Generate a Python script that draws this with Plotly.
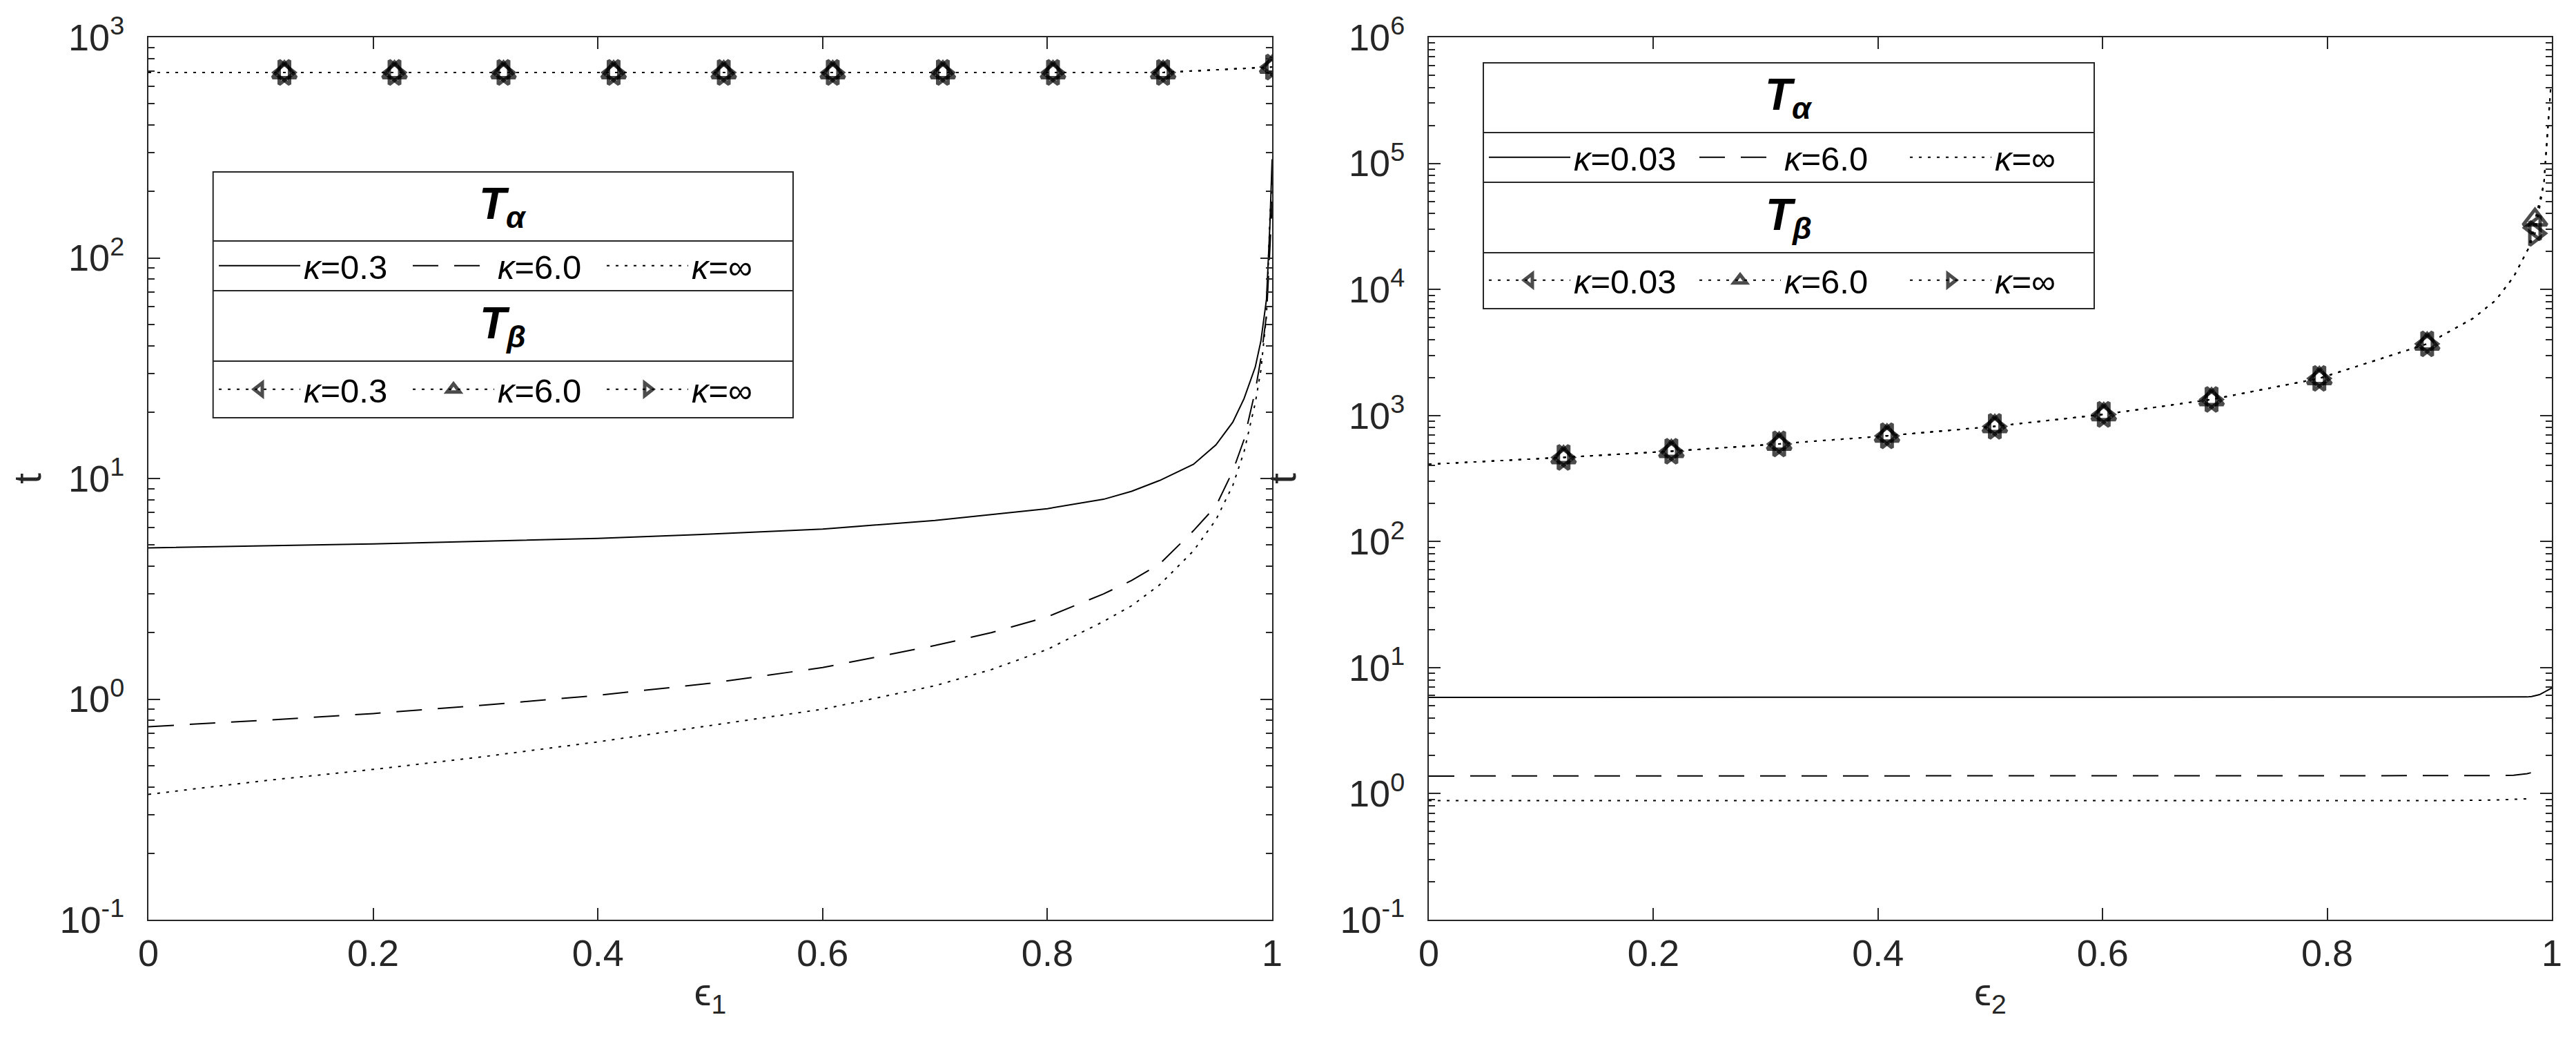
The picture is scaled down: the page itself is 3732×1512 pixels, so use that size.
import plotly.graph_objects as go

W, H = 3732, 1512
FONT = "Liberation Sans"
INK = "#262626"

# ---- left panel (epsilon_1) ----
eps1 = [0, 0.1, 0.2, 0.3, 0.4, 0.5, 0.6, 0.7, 0.75, 0.8, 0.85, 0.875, 0.9,
        0.93, 0.95, 0.965, 0.975, 0.985, 0.99, 0.995, 0.998, 1.0]
ta1_k03 = [4.85, 4.95, 5.05, 5.2, 5.35, 5.6, 5.9, 6.45, 6.85, 7.3, 8.05, 8.75,
           9.8, 11.6, 14.2, 18.0, 23.0, 32.0, 42.0, 65.0, 140.0, 280.0]
ta1_k6 = [0.75, 0.80, 0.86, 0.94, 1.04, 1.18, 1.39, 1.75, 2.0, 2.36, 3.0, 3.45,
          4.1, 5.8, 7.5, 10.8, 15.0, 25.0, 35.0, 55.0, 110.0, 180.0]
ta1_kinf = [0.37, 0.425, 0.48, 0.55, 0.64, 0.76, 0.90, 1.15, 1.36, 1.68, 2.25,
            2.65, 3.3, 4.7, 6.5, 9.3, 13.2, 22.0, 31.0, 55.0, 150.0, 230.0]

eps1_b = [0, 0.121, 0.219, 0.316, 0.414, 0.512, 0.609, 0.707, 0.805, 0.903, 1.0]
tb1_k03 = [693, 693, 693, 693, 693, 693, 693, 693, 693, 693, 733]
tb1_k6 = [693, 693, 693, 693, 693, 693, 693, 693, 693, 693, 733]
tb1_kinf = [693, 693, 693, 693, 693, 693, 693, 693, 693, 693, 733]
marks1 = [1, 2, 3, 4, 5, 6, 7, 8, 9, 10]

# ---- right panel (epsilon_2) ----
eps2 = [0, 0.1, 0.2, 0.3, 0.4, 0.5, 0.6, 0.7, 0.8, 0.9, 0.95, 0.966, 0.978,
        0.982, 0.989, 1.0]
ta2_k003 = [5.8, 5.8, 5.8, 5.8, 5.8, 5.8, 5.8, 5.8, 5.8, 5.8, 5.8, 5.82, 5.85,
            5.9, 6.1, 6.9]
ta2_k6 = [1.38, 1.38, 1.38, 1.38, 1.38, 1.38, 1.38, 1.38, 1.38, 1.38, 1.39,
          1.40, 1.44, 1.47, None, None]
ta2_kinf = [0.88, 0.88, 0.88, 0.88, 0.88, 0.88, 0.88, 0.88, 0.88, 0.88, 0.89,
            0.90, 0.91, 0.92, None, None]

eps2_b = [0, 0.12, 0.216, 0.312, 0.408, 0.504, 0.601, 0.697, 0.793, 0.889,
          0.93, 0.95, 0.966, 0.979, 0.985, 0.993, 0.999]
tb2_k003 = [410, 465, 520, 595, 690, 820, 1020, 1340, 1970, 3700, 5900, 8200,
            12600, 21000, 30800, 70000, 400000]
tb2_k6 = [410, 465, 520, 595, 690, 820, 1020, 1340, 1970, 3700, 5900, 8200,
          12600, 21000, 35700, 70000, 400000]
tb2_kinf = [410, 465, 520, 595, 690, 820, 1020, 1340, 1970, 3700, 5900, 8200,
            12600, 21000, 27800, 70000, 400000]
marks2 = [1, 2, 3, 4, 5, 6, 7, 8, 9, 14]

labels1 = ["<i>κ</i>=0.3", "<i>κ</i>=6.0", "<i>κ</i>=∞"]
labels2 = ["<i>κ</i>=0.03", "<i>κ</i>=6.0", "<i>κ</i>=∞"]

yticks1 = [0.1, 1, 10, 100, 1000]
yticktext1 = ["10<sup>-1</sup>", "10<sup>0</sup>", "10<sup>1</sup>",
              "10<sup>2</sup>", "10<sup>3</sup>"]
yticks2 = [0.1, 1, 10, 100, 1000, 1e4, 1e5, 1e6]
yticktext2 = ["10<sup>-1</sup>", "10<sup>0</sup>", "10<sup>1</sup>",
              "10<sup>2</sup>", "10<sup>3</sup>", "10<sup>4</sup>",
              "10<sup>5</sup>", "10<sup>6</sup>"]

DASHES = ["solid", "37px,23px", "4px,9px"]
DOT = "4px,9px"
SYMBOLS = ["triangle-left-open", "triangle-up-open", "triangle-right-open"]

# plot area in pixels (both panels share the top / bottom edges)
PL, PR, PT, PB = 207, W - 3689, 46, H - 1324
AW, AH = W - PL - PR, H - PT - PB


def fx(x):
    return (x - PL) / AW


def fy(y):
    return (H - PB - y) / AH


def sizes(n, marks, s=30):
    return [s if i in marks else 0 for i in range(n)]


fig = go.Figure()

for ys, name, dash in zip([ta1_k03, ta1_k6, ta1_kinf], labels1, DASHES):
    fig.add_trace(go.Scatter(x=eps1, y=ys, mode="lines", name=name,
                             line=dict(color="black", width=2, dash=dash),
                             xaxis="x", yaxis="y", legend="legend"))
for ys, name, sym in zip([tb1_k03, tb1_k6, tb1_kinf], labels1, SYMBOLS):
    fig.add_trace(go.Scatter(x=eps1_b, y=ys, mode="lines+markers", name=name,
                             line=dict(color="black", width=2, dash=DOT),
                             marker=dict(symbol=sym, color="black",
                                         size=sizes(len(ys), marks1),
                                         line=dict(color="black", width=5)),
                             xaxis="x", yaxis="y", legend="legend2"))

for ys, name, dash in zip([ta2_k003, ta2_k6, ta2_kinf], labels2, DASHES):
    fig.add_trace(go.Scatter(x=eps2, y=ys, mode="lines", name=name,
                             line=dict(color="black", width=2, dash=dash),
                             xaxis="x2", yaxis="y2", legend="legend3"))
for ys, name, sym in zip([tb2_k003, tb2_k6, tb2_kinf], labels2, SYMBOLS):
    fig.add_trace(go.Scatter(x=eps2_b, y=ys, mode="lines+markers", name=name,
                             line=dict(color="black", width=2, dash=DOT),
                             marker=dict(symbol=sym, color="black",
                                         size=sizes(len(ys), marks2),
                                         line=dict(color="black", width=5)),
                             xaxis="x2", yaxis="y2", legend="legend4"))

axis_common = dict(showline=True, linecolor=INK, linewidth=2, mirror="ticks",
                   ticks="inside", ticklen=17, tickwidth=2, tickcolor=INK,
                   showgrid=False, zeroline=False, automargin=False,
                   tickfont=dict(family=FONT, size=54, color=INK))
title_font = dict(family=FONT, size=56, color=INK)


def minor_vals(lo, hi):
    return [m * 10 ** e for e in range(lo, hi) for m in range(2, 10)]


fig.update_layout(
    width=W, height=H,
    margin=dict(l=PL, r=PR, t=PT, b=PB, autoexpand=False),
    paper_bgcolor="white", plot_bgcolor="white",
    font=dict(family=FONT, color=INK),
    xaxis=dict(domain=[0, fx(1835)], range=[0, 1], dtick=0.2,
               anchor="y", ticklabelstandoff=0,
               title=dict(text="ϵ<sub>1</sub>", standoff=8, font=title_font),
               **axis_common),
    yaxis=dict(domain=[0, 1], type="log", range=[-1, 3], anchor="x",
               tickmode="array", tickvals=yticks1, ticktext=yticktext1,
               ticklabelstandoff=22,
               minor=dict(ticks="inside", ticklen=9, tickwidth=2,
                          tickcolor=INK, tickvals=minor_vals(-1, 3)),
               title=dict(text="t", standoff=46, font=title_font),
               **axis_common),
    xaxis2=dict(domain=[fx(2062), 1], range=[0, 1], dtick=0.2,
                anchor="y2", ticklabelstandoff=0,
                title=dict(text="ϵ<sub>2</sub>", standoff=8, font=title_font),
                **axis_common),
    yaxis2=dict(domain=[0, 1], type="log", range=[-1, 6], anchor="x2",
                tickmode="array", tickvals=yticks2, ticktext=yticktext2,
                ticklabelstandoff=22,
                minor=dict(ticks="inside", ticklen=9, tickwidth=2,
                           tickcolor=INK, tickvals=minor_vals(-1, 6)),
                title=dict(text="t", standoff=46, font=title_font),
                **axis_common),
)

leg_common = dict(orientation="h", xanchor="left", yanchor="middle",
                  bgcolor="rgba(0,0,0,0)", borderwidth=0, itemwidth=118,
                  entrywidthmode="pixels", traceorder="normal",
                  font=dict(family=FONT, size=49, color="black"))
fig.update_layout(
    legend=dict(x=fx(304), y=fy(377), entrywidth=148, **leg_common),
    legend2=dict(x=fx(304), y=fy(556), entrywidth=148, **leg_common),
    legend3=dict(x=fx(2144), y=fy(220), entrywidth=172, **leg_common),
    legend4=dict(x=fx(2144), y=fy(398), entrywidth=172, **leg_common),
)

# legend frames: outer box plus separators between title and entry rows
boxes = [
    (300.7, 1141, 241, 597, [341, 413, 515]),
    (2141, 3026, 83, 439, [184, 256, 358]),
]
shapes = []
for x0, x1, y0, y1, seps in boxes:
    shapes.append(dict(type="rect", xref="paper", yref="paper",
                       x0=fx(x0), x1=fx(x1), y0=fy(y1), y1=fy(y0),
                       line=dict(color=INK, width=2)))
    for s in seps:
        shapes.append(dict(type="line", xref="paper", yref="paper",
                           x0=fx(x0), x1=fx(x1), y0=fy(s), y1=fy(s),
                           line=dict(color=INK, width=2)))
fig.update_layout(shapes=shapes)

titles = [
    ("<b><i>T</i></b><sub><b><i>α</i></b></sub>", (300.7 + 1141) / 2, 291),
    ("<b><i>T</i></b><sub><b><i>β</i></b></sub>", (300.7 + 1141) / 2, 464),
    ("<b><i>T</i></b><sub><b><i>α</i></b></sub>", (2141 + 3026) / 2, 133),
    ("<b><i>T</i></b><sub><b><i>β</i></b></sub>", (2141 + 3026) / 2, 307),
]
for text, cx, cy in titles:
    fig.add_annotation(text=text, x=fx(cx), y=fy(cy), xref="paper",
                       yref="paper", showarrow=False, xanchor="center",
                       yanchor="middle",
                       font=dict(family=FONT, size=64, color="black"))

fig.write_html("out.html")
